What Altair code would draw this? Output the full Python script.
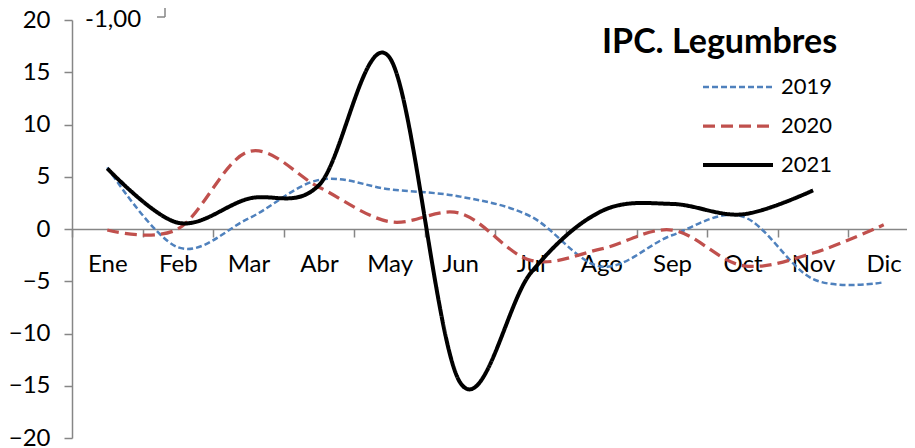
import altair as alt
import pandas as pd

months = ["Ene", "Feb", "Mar", "Abr", "May", "Jun", "Jul", "Ago", "Sep", "Oct", "Nov", "Dic"]
years = ["2019", "2020", "2021"]
v2019 = [5.9, -1.75, 1.0, 4.7, 3.8, 3.1, 1.2, -3.6, -0.6, 1.2, -4.8, -5.1]
v2020 = [-0.1, 0.0, 7.4, 4.0, 0.7, 1.5, -3.0, -1.9, -0.1, -3.5, -2.3, 0.4]
v2021 = [5.8, 0.6, 2.9, 4.2, 16.4, -14.7, -4.2, 1.7, 2.4, 1.4, 3.7, None]
y_ticks = [-20, -15, -10, -5, 0, 5, 10, 15, 20]
title_text = "IPC. Legumbres"
stray_label = "-1,00"

colors = ["#4F81BD", "#C0504D", "#000000"]
dashes = [[6, 3], [12, 6], [1, 0]]
widths = [2.5, 4, 4.5]

rows = []
for yr, vals in zip(years, [v2019, v2020, v2021]):
    for m, v in zip(months, vals):
        rows.append({"Mes": m, "Año": yr, "Valor": v})
df = pd.DataFrame(rows)
leg_df = pd.DataFrame({"Año": years})

FONT = "Lato"
AX = "#868686"

col = alt.Color("Año:N", scale=alt.Scale(domain=years, range=colors), legend=None)
dash = alt.StrokeDash("Año:N", scale=alt.Scale(domain=years, range=dashes), legend=None)
sw = alt.StrokeWidth("Año:N", scale=alt.Scale(domain=years, range=widths), legend=None)

lines = alt.Chart(df).mark_line(interpolate="cardinal", tension=0).encode(
    x=alt.X("Mes:N", sort=months,
            scale=alt.Scale(type="band", domain=months, range=[0, 847], paddingInner=0, paddingOuter=0),
            axis=alt.Axis(title=None, offset=-209, tickBand="extent", labelAngle=0, tickSize=8,
                          labelPadding=15, labelFontSize=24, labelFont=FONT, labelColor="#000000",
                          domainColor=AX, tickColor=AX, domainWidth=1.5, tickWidth=1.5, grid=False)),
    y=alt.Y("Valor:Q", scale=alt.Scale(domain=[-20, 20], nice=False, zero=False),
            axis=alt.Axis(title=None, values=y_ticks, tickSize=8, labelPadding=14, labelFontSize=24,
                          labelFont=FONT, labelColor="#000000", domainColor=AX, tickColor=AX,
                          domainWidth=1.5, tickWidth=1.5, grid=False)),
    color=col, strokeDash=dash, strokeWidth=sw,
)

leg_y = alt.Y("Año:N", scale=alt.Scale(type="point", domain=years, range=[67, 145], padding=0), axis=None)

leg_lines = alt.Chart(leg_df).mark_rule().encode(
    x=alt.value(631), x2=alt.value(701), y=leg_y,
    color=col, strokeDash=dash, strokeWidth=sw,
)
leg_text = alt.Chart(leg_df).mark_text(
    align="left", baseline="middle", font=FONT, fontSize=22, color="#000000"
).encode(x=alt.value(709), y=leg_y, text="Año:N")

title = alt.Chart(pd.DataFrame({"t": [title_text]})).mark_text(
    align="left", baseline="middle", font=FONT, fontSize=34, fontWeight="bold", color="#000000"
).encode(x=alt.value(530), y=alt.value(23), text="t:N")

stray = alt.Chart(pd.DataFrame({"t": [stray_label]})).mark_text(
    align="left", baseline="middle", font=FONT, fontSize=24, color="#000000"
).encode(x=alt.value(13), y=alt.value(0), text="t:N")

br1 = alt.Chart(pd.DataFrame({"t": [0]})).mark_rule(color=AX, strokeWidth=1.5).encode(
    x=alt.value(93), y=alt.value(-20), y2=alt.value(-3))
br2 = alt.Chart(pd.DataFrame({"t": [0]})).mark_rule(color=AX, strokeWidth=1.5).encode(
    x=alt.value(85), x2=alt.value(93), y=alt.value(-3))

chart = alt.layer(lines, leg_lines, leg_text, title, stray, br1, br2).resolve_scale(
    y="independent"
).properties(
    width=835, height=418,
    autosize=alt.AutoSizeParams(type="none"),
    padding={"left": 64, "top": 12, "right": 0, "bottom": 10},
).configure_view(stroke=None)

chart.save("out.html", embed_options={"renderer": "svg", "actions": False})
